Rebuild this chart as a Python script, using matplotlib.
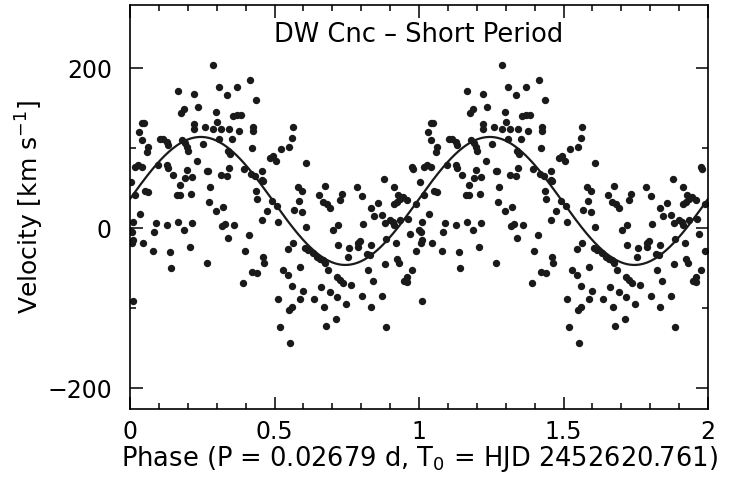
import numpy as np
import matplotlib
matplotlib.use('Agg')
import matplotlib.pyplot as plt
from matplotlib.ticker import MultipleLocator

# phase-folded radial velocities (one cycle)
phase = [
    0.167, 0.175, 0.042, 0.050, 0.031, 0.040, 0.063, 0.058, 0.104, 0.115, 0.127, 0.133, 0.179,
    0.029, 0.040, 0.017, 0.097, 0.127, 0.133, 0.149, 0.003, 0.173, 0.052, 0.063, 0.017, 0.162, 0.173,
    0.035, 0.012, 0.089, 0.127, 0.167, 0.000, 0.006, 0.084, 0.188, 0.012, 0.006, 0.046, 0.081, 0.138, 0.142, 0.012,
    0.288, 0.221, 0.309, 0.335, 0.371, 0.186, 0.236, 0.298, 0.302, 0.358, 0.369,
    0.221, 0.221, 0.260, 0.286, 0.314, 0.344, 0.378, 0.190, 0.197, 0.202, 0.252, 0.309, 0.352, 0.340, 0.346,
    0.233, 0.196, 0.265, 0.271, 0.344, 0.190, 0.213, 0.314, 0.335, 0.277, 0.210, 0.274, 0.298, 0.321,
    0.216, 0.317, 0.329, 0.360, 0.340, 0.208, 0.268,
    0.415, 0.435, 0.384, 0.427, 0.427, 0.565, 0.562, 0.423, 0.522, 0.550, 0.484, 0.496, 0.504,
    0.396, 0.419, 0.433, 0.456, 0.456, 0.461, 0.435, 0.438, 0.492, 0.508, 0.473, 0.569, 0.458, 0.511,
    0.412, 0.398, 0.565, 0.546, 0.461, 0.465, 0.421, 0.438, 0.530, 0.546, 0.392, 0.562, 0.511, 0.550, 0.562, 0.519, 0.554,
    0.609, 0.582, 0.594, 0.675, 0.655, 0.669, 0.681, 0.692, 0.732, 0.727, 0.594, 0.586, 0.609, 0.703, 0.721,
    0.606, 0.617, 0.721, 0.759, 0.755, 0.634, 0.646, 0.657, 0.669, 0.675, 0.588, 0.686, 0.715, 0.727, 0.738,
    0.597, 0.660, 0.692, 0.715, 0.588, 0.637, 0.671, 0.747, 0.713, 0.678,
    0.880, 0.784, 0.915, 0.802, 0.926, 0.934, 0.923, 0.915, 0.859, 0.834, 0.845, 0.871, 0.807,
    0.882, 0.900, 0.911, 0.915, 0.796, 0.790, 0.788, 0.834, 0.885, 0.919, 0.819, 0.830,
    0.882, 0.923, 0.931, 0.825, 0.842, 0.949, 0.765, 0.804, 0.873, 0.834, 0.885,
    0.975, 0.979, 0.957, 0.945, 0.989, 0.934, 0.963, 0.969, 0.989, 0.975, 0.957, 0.957,
]
velocity = [
    172, 144, 132, 132, 120, 110, 102, 95, 112, 112, 108, 104, 110,
    79, 77, 77, 79, 79, 75, 66, 58, 54, 47, 45, 41, 41, 41,
    18, 8, 6, 4, 8, -2, -5, -5, -2, -15, -19, -18, -28, -30, -50, -91,
    204, 168, 177, 167, 177, 149, 152, 145, 133, 140, 141,
    130, 124, 126, 124, 124, 124, 121, 107, 101, 97, 105, 111, 112, 97, 93,
    84, 73, 72, 72, 75, 63, 64, 66, 65, 52, 43, 33, 22, 26,
    7, 3, 5, 4, -12, -23, -44,
    185, 160, 142, 126, 122, 127, 113, 100, 99, 102, 88, 90, 84,
    74, 68, 65, 72, 60, 59, 47, 37, 34, 28, 22, 23, 10, 8,
    -8, -28, -18, -26, -36, -44, -55, -56, -52, -59, -68, -72, -88, -102, -99, -123, -144,
    82, 52, 47, 53, 42, 33, 30, 25, 43, 35, 20, 34, 1, -2, 4,
    -25, -27, -21, -25, -36, -31, -36, -38, -40, -44, -49, -52, -61, -65, -68,
    -78, -73, -80, -86, -89, -88, -99, -95, -113, -122,
    61, 52, 52, 40, 41, 37, 33, 30, 32, 25, 15, 17, 5,
    6, 10, 8, 4, -16, -19, -23, -21, -14, -18, -32, -34,
    -45, -39, -43, -52, -66, -66, -71, -85, -85, -98, -124,
    76, 74, 35, 39, 30, 10, 12, -7, -28, -52, -61, -67,
]

# sine fit parameters
gamma = 34.0
K = 80.0
phase_max = 0.245

phase = np.array(phase)
velocity = np.array(velocity)

fig = plt.figure(figsize=(7.37, 4.8), dpi=100)
ax = fig.add_axes([0.1764, 0.148, 0.7843, 0.8417])

#Plot two cycles
for shift in (0, 1):
    ax.plot(phase + shift, velocity, 'o', color='#1a1a1a', ms=5.3, mew=0)

ph = np.linspace(0, 2, 600)
ax.plot(ph, gamma + K*np.cos(2*np.pi*(ph - phase_max)), color='#1a1a1a', lw=1.6)

ax.set_xlim(0, 2)
ax.set_ylim(-226, 279)

ax.xaxis.set_major_locator(MultipleLocator(0.5))
ax.xaxis.set_minor_locator(MultipleLocator(0.1))
ax.yaxis.set_major_locator(MultipleLocator(200))
ax.yaxis.set_minor_locator(MultipleLocator(100))
ax.set_xticks([0, 0.5, 1, 1.5, 2])
ax.set_xticklabels(['0', '0.5', '1', '1.5', '2'])

ax.tick_params(which='both', direction='in', top=True, right=True, width=1.1, labelsize=17)
ax.tick_params(axis='x', pad=8)
ax.tick_params(axis='y', pad=13)
ax.tick_params(which='major', length=9)
ax.tick_params(which='minor', length=4.5)
for s in ax.spines.values():
    s.set_linewidth(1.2)

ax.text(1.0, 241, 'DW Cnc \u2013 Short Period', ha='center', va='center', fontsize=18.5)
ax.set_xlabel('Phase (P = 0.02679 d, T$_0$ = HJD 2452620.761)', fontsize=18.5, labelpad=0)
ax.set_ylabel('Velocity [km s$^{-1}$]', fontsize=18, labelpad=1)

fig.savefig('out.png', dpi=100)
